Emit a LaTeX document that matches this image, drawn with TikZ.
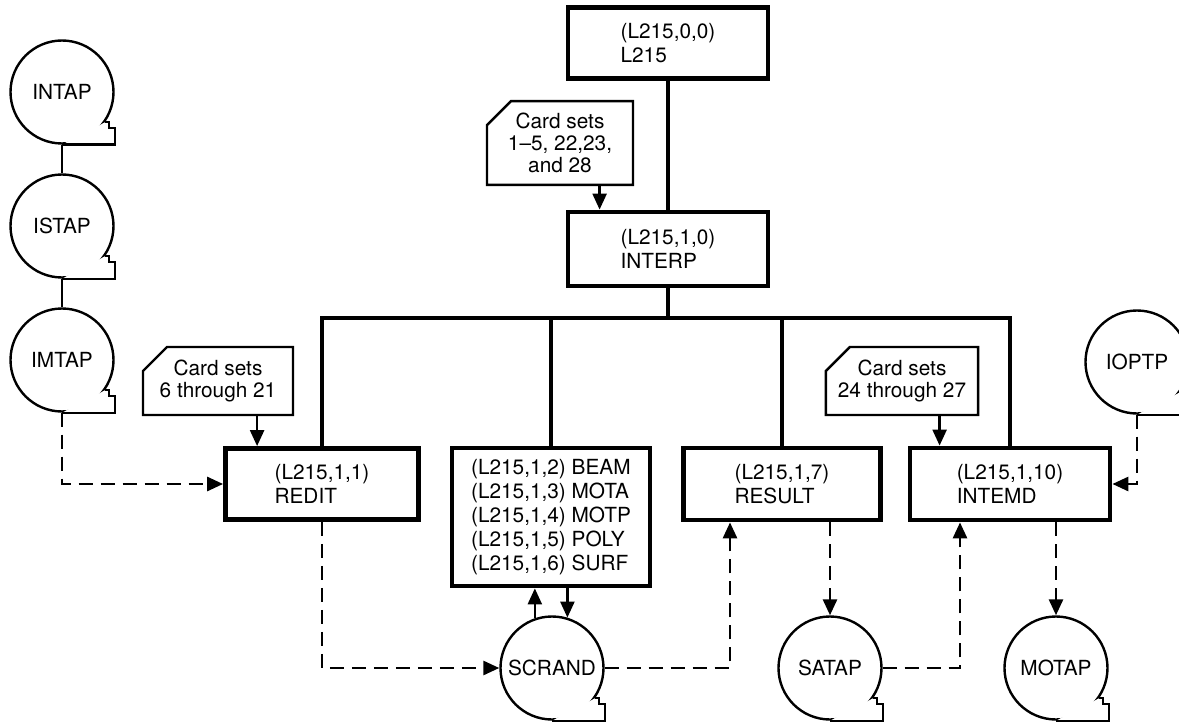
\documentclass[tikz,border=0pt]{standalone}
\usepackage{fontspec}
\setmainfont{TeX Gyre Heros}
\usetikzlibrary{arrows.meta,shapes.misc}

% tail of a tape reel, drawn at the lower right of a circle node
\newcommand{\reeltail}[1]{%
  \fill[white] (#1.south) -| ([yshift=-18pt]#1.east) -- ++(-3pt,0) |- (#1.-35) -- cycle;
  \draw[line width=1.2pt] (#1.south) -| ([yshift=-18pt]#1.east) -- ++(-3pt,0) |- (#1.-35);}

\begin{document}
\begin{tikzpicture}[x=0.5pt,y=-0.5pt,
        box/.style={draw,line width=2.4pt,align=left,inner sep=0pt,font=\fontsize{10.4}{12}\selectfont},
        card/.style={chamfered rectangle,chamfered rectangle corners=north west,
            chamfered rectangle xsep=6pt,chamfered rectangle ysep=6pt,draw,line width=1.2pt,
            align=center,inner sep=0pt,minimum height=34pt,font=\fontsize{10.4}{11}\selectfont},
        reel/.style={circle,draw,line width=1.2pt,minimum size=51.5pt,inner sep=0pt,font=\fontsize{10.4}{12}\selectfont},
        link/.style={line width=2.2pt},
        feed/.style={line width=1.2pt,-{Triangle[length=8pt,width=7pt]}},
        flow/.style={line width=1.4pt,dash pattern=on 7pt off 4pt,-{Triangle[length=8pt,width=7pt]}}]

    \useasboundingbox (0,0) rectangle (1179,722);

    % Program boxes
    \node[box,minimum width=100pt,minimum height=35.5pt] (l215) at (668,43) {(L215,0,0)\\L215};
    \node[box,minimum width=100pt,minimum height=37pt] (interp) at (668,249) {(L215,1,0)\\INTERP};
    \node[box,minimum width=96.5pt,minimum height=35.5pt] (redit) at (322,484) {(L215,1,1)\\REDIT};
    \node[box,minimum width=99pt,minimum height=69pt] (beam) at (551,517)
        {(L215,1,2) BEAM\\(L215,1,3) MOTA\\(L215,1,4) MOTP\\(L215,1,5) POLY\\(L215,1,6) SURF};
    \node[box,minimum width=98.5pt,minimum height=36pt] (result) at (782,484) {(L215,1,7)\\RESULT};
    \node[box,minimum width=100pt,minimum height=36pt] (intemd) at (1010,484) {(L215,1,10)\\INTEMD};

    % Card sets
    \node[card,minimum width=73pt] (cardA) at (560,143) {Card sets\\1--5, 22,23,\\and 28};
    \node[card,minimum width=75pt] (cardB) at (218,381) {Card sets\\6 through 21};
    \node[card,minimum width=74.5pt] (cardC) at (902,381) {Card sets\\24 through 27};

    % Tapes
    \node[reel] (intap) at (62,92) {INTAP};
    \node[reel] (istap) at (62,226) {ISTAP};
    \node[reel] (imtap) at (62,360) {IMTAP};
    \node[reel] (scrand) at (552,668) {SCRAND};
    \node[reel] (satap) at (830,668) {SATAP};
    \node[reel] (motap) at (1056,668) {MOTAP};
    \node[reel] (ioptp) at (1137,362) {IOPTP};
    \reeltail{intap}
    \reeltail{istap}
    \reeltail{imtap}
    \reeltail{scrand}
    \reeltail{satap}
    \reeltail{motap}
    \reeltail{ioptp}

    % Bus
    \coordinate (bus) at (668,318);
    \coordinate (busB) at (551,318);
    \coordinate (busR) at (782,318);

    % Tree links
    \draw[link] (l215) -- (interp);
    \draw[link] (interp) -- (bus);
    \draw[link] (redit) |- (bus) -| (intemd);
    \draw[link] (busB) -- (beam);
    \draw[link] (busR) -- (result);

    % Card inputs
    \draw[feed] ([xshift=17pt]interp.north west |- cardA.south) -- ([xshift=17pt]interp.north west);
    \draw[feed] ([xshift=17pt]redit.north west |- cardB.south) -- ([xshift=17pt]redit.north west);
    \draw[feed] ([xshift=16pt]intemd.north west |- cardC.south) -- ([xshift=16pt]intemd.north west);

    % Tape links
    \draw[line width=1.2pt] (intap) -- (istap);
    \draw[line width=1.2pt] (istap) -- (imtap);
    \draw[feed] (scrand.109) -- (scrand.109 |- beam.south);
    \draw[feed] (scrand.73 |- beam.south) -- (scrand.73);

    % Data flow
    \draw[flow] (imtap) |- (redit);
    \draw[flow] (redit) |- (scrand);
    \draw[flow] (scrand) -| ([xshift=-26pt]result.south);
    \draw[flow] (result.south -| satap) -- (satap);
    \draw[flow] (satap) -| ([xshift=-25pt]intemd.south);
    \draw[flow] (intemd.south -| motap) -- (motap);
    \draw[flow] (ioptp) |- (intemd);

\end{tikzpicture}
\end{document}
